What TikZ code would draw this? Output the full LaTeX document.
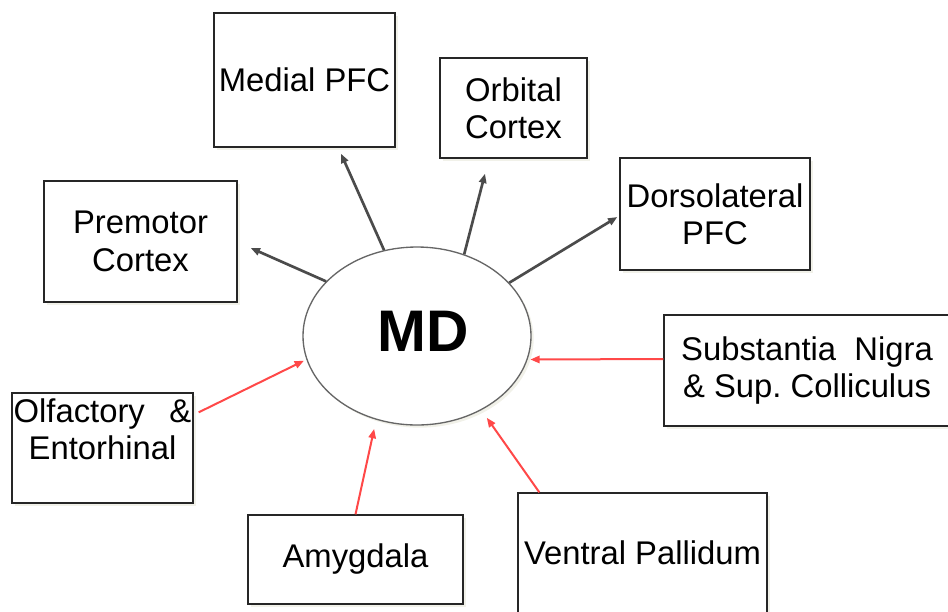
\documentclass[tikz,border=0pt]{standalone}
\usepackage{fontspec}
\setmainfont{Liberation Sans}
\usetikzlibrary{arrows.meta,shapes.geometric,shadows}

\definecolor{inred}{RGB}{255,72,72}
\definecolor{outgray}{RGB}{75,75,75}

\tikzset{
  region/.style 2 args={draw=black!85, line width=1pt, fill=white, inner sep=0pt,
    minimum width=#1*0.75pt, minimum height=#2*0.75pt, align=center,
    font=\fontsize{24.6}{28}\selectfont,
    drop shadow={shadow xshift=2pt, shadow yshift=-2pt, fill=black!50!yellow, opacity=0.12}},
  output/.style={outgray, line width=2pt, -{Triangle[length=7pt,width=5.5pt]}},
  input/.style={inred, line width=1.5pt, -{Triangle[length=7pt,width=5.5pt]}},
}

\begin{document}
\begin{tikzpicture}[x=0.75pt, y=-0.75pt]
\clip (0,0) rectangle (948,611);

% thalamus
\node[ellipse, draw=black!60, line width=1pt, fill=white, inner sep=0pt,
  minimum width=171pt, minimum height=133.5pt,
  drop shadow={shadow xshift=2pt, shadow yshift=-2pt, fill=black!50!yellow, opacity=0.12},
  font=\fontsize{44}{50}\selectfont\bfseries] (md) at (417,336) {\hspace*{9pt}\raisebox{6.8pt}{MD}};

% outputs to cortex
\node[region={181}{134}] (medial) at (304.5,80) {Medial PFC};
\node[region={147}{100}] (orbital) at (513.5,108) {Orbital\\Cortex};
\node[region={190}{112}] (dorso) at (715,214) {Dorsolateral\\PFC};
\node[region={193}{121}] (premotor) at (140.5,241.5) {Premotor\\Cortex};

% inputs
\node[region={181}{110}] (olfact) at (102.5,448) {Olfactory\hspace{0.75em}\&\\Entorhinal\\\mbox{}};
\node[region={215}{89}] (amyg) at (355.5,559.5) {Amygdala};
\node[region={249}{120}] (ventral) at (642.5,553) {Ventral Pallidum};
\node[region={286}{111}] (nigra) at (807,370.5) {Substantia\ \ Nigra\\\&\ Sup.\ Colliculus};

\draw[output] (md.149) -- ([shift={(13,6.5)}]premotor.east);
\draw[output] (md.111) -- ([shift={(36.5,6)}]medial.south);
\draw[output] (md.60) -- ([shift={(-28.5,15)}]orbital.south);
\draw[output] (md.30) -- ([shift={(-2,3)}]dorso.west);

\draw[input, shorten >=2pt] ([shift={(5,20)}]olfact.north east) -- (md.192.5);
\draw[input, shorten >=7pt] (amyg.north) -- (md.244);
\draw[input, shorten >=7pt] ([shift={(22,0)}]ventral.north west) -- (md.311);
\draw[input, shorten >=2pt] ([shift={(0,-11.5)}]nigra.west) -- (md.348.5);
\end{tikzpicture}
\end{document}
